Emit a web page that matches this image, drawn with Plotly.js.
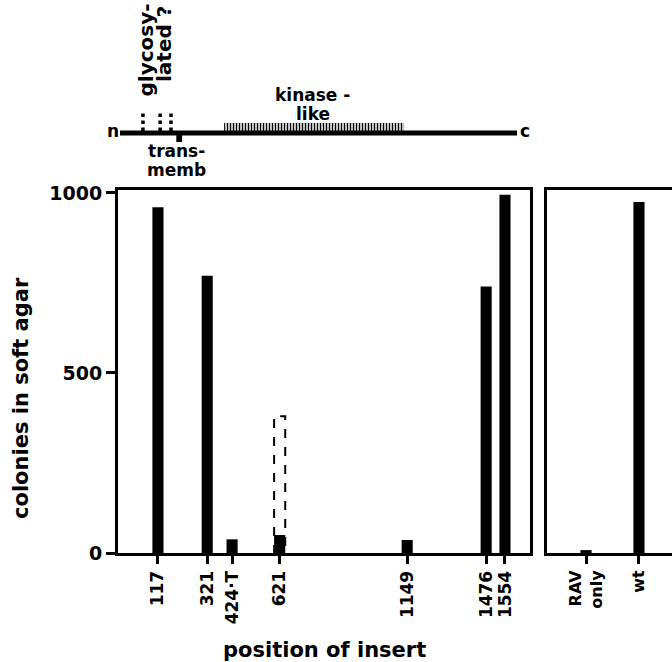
<!DOCTYPE html>
<html>
<head>
<meta charset="utf-8">
<script src="https://cdn.plot.ly/plotly-3.0.1.min.js"></script>
<style>html,body{margin:0;padding:0;background:#fff;}#chart{width:672px;height:662px;}</style>
</head>
<body>
<div id="chart"></div>
<script>
// ---- data ----
var insertLabels = ['117', '321', '424·T', '621', '1149', '1476', '1554'];
var insertPositions = [117, 321, 424, 621, 1149, 1476, 1554];
var insertColonies = [960, 770, 38, 50, 36, 740, 995];
var dashedPosition = [621];
var dashedColonies = [380];

var controlLabels = ['RAV<br>only', 'wt'];
var controlColonies = [8, 975];

var yTickVals = [0, 500, 1000];

// protein schematic (residue positions)
var proteinRange = [-40, 1604];
var kinaseRange = [391, 1136];
var glycoSites = [55, 126, 171];
var transmembSite = [205];

// ---- build ----
var W = 672, H = 662;
function px(x) { return x / W; }
function py(y) { return 1 - y / H; }
var BW = 46;
var black = '#000';
var fontFam = 'DejaVu Sans, Liberation Sans, Arial, sans-serif';

var traces = [];
traces.push({
  type: 'bar', x: insertPositions, y: insertColonies, width: insertPositions.map(function(){return BW;}),
  marker: {color: black, line: {width: 0}}, xaxis: 'x', yaxis: 'y', hoverinfo: 'skip', showlegend: false
});
traces.push({
  type: 'bar', x: controlLabels, y: controlColonies, width: controlLabels.map(function(){return 0.21;}),
  marker: {color: black, line: {width: 0}}, xaxis: 'x2', yaxis: 'y2', hoverinfo: 'skip', showlegend: false
});
// schematic: kinase hatch
traces.push({
  type: 'bar', x: [(kinaseRange[0] + kinaseRange[1]) / 2], y: [10], base: 0,
  width: [kinaseRange[1] - kinaseRange[0]],
  marker: {color: black, line: {width: 0}, pattern: {shape: '|', size: 3, solidity: 0.5, fgcolor: black, bgcolor: 'white'}},
  xaxis: 'x', yaxis: 'y3', hoverinfo: 'skip', showlegend: false
});
// transmembrane block
traces.push({
  type: 'bar', x: transmembSite, y: [-9], base: 0, width: [24],
  marker: {color: black, line: {width: 0}}, xaxis: 'x', yaxis: 'y3', hoverinfo: 'skip', showlegend: false
});
// glycosylation dotted lines
var gx = [], gy = [];
glycoSites.forEach(function(s){ gx.push(s, s, null); gy.push(2, 20, null); });
traces.push({
  type: 'scatter', mode: 'lines', x: gx, y: gy, line: {color: black, width: 3.5, dash: 'dot'},
  xaxis: 'x', yaxis: 'y3', hoverinfo: 'skip', showlegend: false, cliponaxis: false
});
// main protein line
traces.push({
  type: 'scatter', mode: 'lines', x: proteinRange, y: [0, 0], line: {color: black, width: 5},
  xaxis: 'x', yaxis: 'y3', hoverinfo: 'skip', showlegend: false, cliponaxis: false
});

var shapes = [];
dashedPosition.forEach(function(p, i){
  shapes.push({type: 'rect', xref: 'x', yref: 'y', x0: p - BW / 2, x1: p + BW / 2, y0: 0, y1: dashedColonies[i],
    line: {color: black, width: 2, dash: 'dash'}, fillcolor: 'rgba(0,0,0,0)', layer: 'above'});
});

var tf = {family: fontFam, size: 17, color: black, weight: 'bold'};
function ann(text, x, y, xref, yref, opts) {
  var a = {text: text, x: x, y: y, xref: xref, yref: yref, showarrow: false, font: tf, xanchor: 'center', yanchor: 'middle'};
  for (var k in opts) a[k] = opts[k];
  return a;
}
var bigF = {family: fontFam, size: 21, color: black, weight: 'bold'};
var glyF = {family: fontFam, size: 20, color: black, weight: 'bold'};
var annotations = [
  ann('colonies in soft agar', px(21), py(398), 'paper', 'paper', {textangle: -90, font: bigF}),
  ann('position of insert', px(324), py(650), 'paper', 'paper', {font: bigF}),
  ann('n', proteinRange[0], 0, 'x', 'y3', {xanchor: 'right', xshift: 1, yshift: 2}),
  ann('c', proteinRange[1], 0, 'x', 'y3', {xanchor: 'left', xshift: 1, yshift: 2}),
  ann('kinase -', px(312), py(95), 'paper', 'paper', {}),
  ann('like', px(313), py(114), 'paper', 'paper', {}),
  ann('trans-', px(176), py(151), 'paper', 'paper', {}),
  ann('memb', px(176), py(170), 'paper', 'paper', {}),
  ann('glycosy-', px(146), py(2), 'paper', 'paper', {textangle: -90, yanchor: 'top', font: glyF}),
  ann('lated ?', px(164), py(4), 'paper', 'paper', {textangle: -90, yanchor: 'top', font: glyF})
];

var yRange = [0, 1008];
var layout = {
  width: W, height: H, margin: {l: 0, r: 0, t: 0, b: 0}, paper_bgcolor: 'white', plot_bgcolor: 'rgba(0,0,0,0)',
  font: tf, showlegend: false, barmode: 'overlay',
  xaxis: {domain: [px(118), px(530)], range: [-48.4, 1657.6], anchor: 'y', tickmode: 'array', tickvals: insertPositions, ticktext: insertLabels,
    tickangle: -90, ticks: 'outside', ticklen: 8, tickwidth: 3, tickcolor: black, showline: true, mirror: true, linewidth: 3, linecolor: black,
    showgrid: false, zeroline: false, tickfont: {family: fontFam, size: 17, color: black, weight: 'bold'}, fixedrange: true},
  yaxis: {domain: [py(553), py(190)], range: yRange, anchor: 'x', tickmode: 'array', tickvals: yTickVals, ticks: 'outside', ticklen: 9, tickwidth: 3,
    tickcolor: black, showline: true, mirror: true, linewidth: 3, linecolor: black, showgrid: false, zeroline: false,
    tickfont: {family: fontFam, size: 19, color: black, weight: 'bold'}, fixedrange: true},
  xaxis2: {domain: [px(547), 1], type: 'category', range: [-0.736, 1.623], anchor: 'y2', tickangle: -90, ticks: 'outside', ticklen: 8, tickwidth: 3,
    tickcolor: black, showline: true, mirror: true, linewidth: 3, linecolor: black, showgrid: false, zeroline: false,
    tickfont: {family: fontFam, size: 16, color: black, weight: 'bold'}, fixedrange: true},
  yaxis2: {domain: [py(553), py(190)], range: yRange, anchor: 'x2', showticklabels: false, ticks: '', showline: true, linewidth: 3, linecolor: black,
    showgrid: false, zeroline: false, fixedrange: true},
  yaxis3: {domain: [py(163), py(103)], range: [-30, 30], anchor: 'x', visible: false, fixedrange: true},
  shapes: shapes, annotations: annotations
};

Plotly.newPlot('chart', traces, layout, {displayModeBar: false, staticPlot: true});
</script>
</body>
</html>
